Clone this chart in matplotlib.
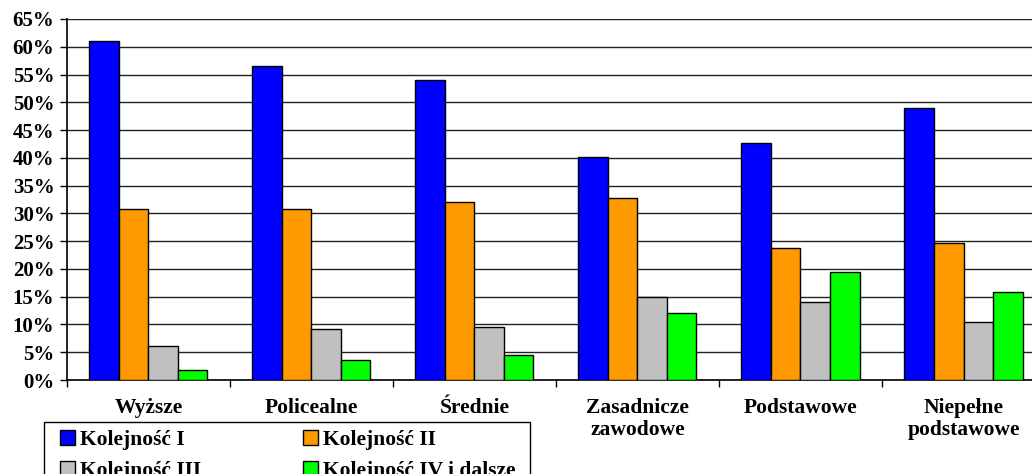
import numpy as np
import matplotlib.pyplot as plt
from matplotlib.patches import Patch, Rectangle
from matplotlib.ticker import MultipleLocator, PercentFormatter

categories = ['Wyższe', 'Policealne', 'Średnie', 'Zasadnicze\nzawodowe',
              'Podstawowe', 'Niepełne\npodstawowe']
series_names = ['Kolejność I', 'Kolejność II', 'Kolejność III', 'Kolejność IV i dalsze']
kolejnosc_1 = [61.0, 56.5, 54.0, 40.1, 42.6, 48.9]
kolejnosc_2 = [30.8, 30.8, 32.0, 32.7, 23.8, 24.6]
kolejnosc_3 = [6.2, 9.2, 9.5, 15.0, 14.0, 10.5]
kolejnosc_4 = [1.75, 3.6, 4.5, 12.1, 19.4, 15.8]
colors = ['#0000ff', '#ff9900', '#c0c0c0', '#00ff00']

plt.rcParams['font.family'] = ['Liberation Serif', 'DejaVu Serif']
plt.rcParams['font.weight'] = 'bold'

fig = plt.figure(figsize=(10.32, 4.74), dpi=100)
# plot area runs slightly past the right edge of the figure
ax = fig.add_axes([0.0649, 0.1983, 0.9477, 0.7617])

x = np.arange(len(categories))
width = 0.181
series = [kolejnosc_1, kolejnosc_2, kolejnosc_3, kolejnosc_4]
for i, (vals, col) in enumerate(zip(series, colors)):
    ax.bar(x + (i - 1.5) * width, vals, width, color=col,
           edgecolor='black', linewidth=1, zorder=3)

ax.set_xlim(-0.5, len(categories) - 0.5)
ax.set_ylim(0, 65)
ax.yaxis.set_major_locator(MultipleLocator(5))
ax.yaxis.set_major_formatter(PercentFormatter(decimals=0))
ax.grid(axis='y', color='#222222', linewidth=1)
ax.set_axisbelow(True)

ax.set_xticks(x)
ax.set_xticklabels(categories, fontsize=15.5, fontweight='bold', linespacing=1.15)
ax.set_xticks(np.arange(len(categories) + 1) - 0.5, minor=True)
ax.tick_params(axis='x', which='major', length=0, pad=13)
ax.tick_params(axis='x', which='minor', length=5, width=1, direction='out')
ax.tick_params(axis='y', length=5, width=1, labelsize=15, pad=4)
for lbl in ax.get_yticklabels():
    lbl.set_fontweight('bold')

for side in ['top', 'right']:
    ax.spines[side].set_visible(False)
for side in ['left', 'bottom']:
    ax.spines[side].set_linewidth(1.2)
    ax.spines[side].set_color('black')

# legend box drawn separately so its padding can differ from the row spacing
fig.patches.append(Rectangle((0.0426, -0.1), 0.4710, 0.2097,
                             transform=fig.transFigure, facecolor='white',
                             edgecolor='black', linewidth=1, zorder=1))

# legend is filled column by column, so order entries to read across rows
order = [0, 2, 1, 3]
handles = [Patch(facecolor=colors[k], edgecolor='black', linewidth=1) for k in order]
labels = [series_names[k] for k in order]
leg = fig.legend(handles, labels, loc='upper left',
                 bbox_to_anchor=(0.0581, 0.092), ncol=2,
                 prop={'weight': 'bold', 'size': 15.5}, frameon=False,
                 borderaxespad=0, borderpad=0,
                 handlelength=0.7, handleheight=0.7, handletextpad=0.25,
                 columnspacing=4.7, labelspacing=0.5)
leg.set_zorder(2)

fig.savefig('out.png', dpi=100)
